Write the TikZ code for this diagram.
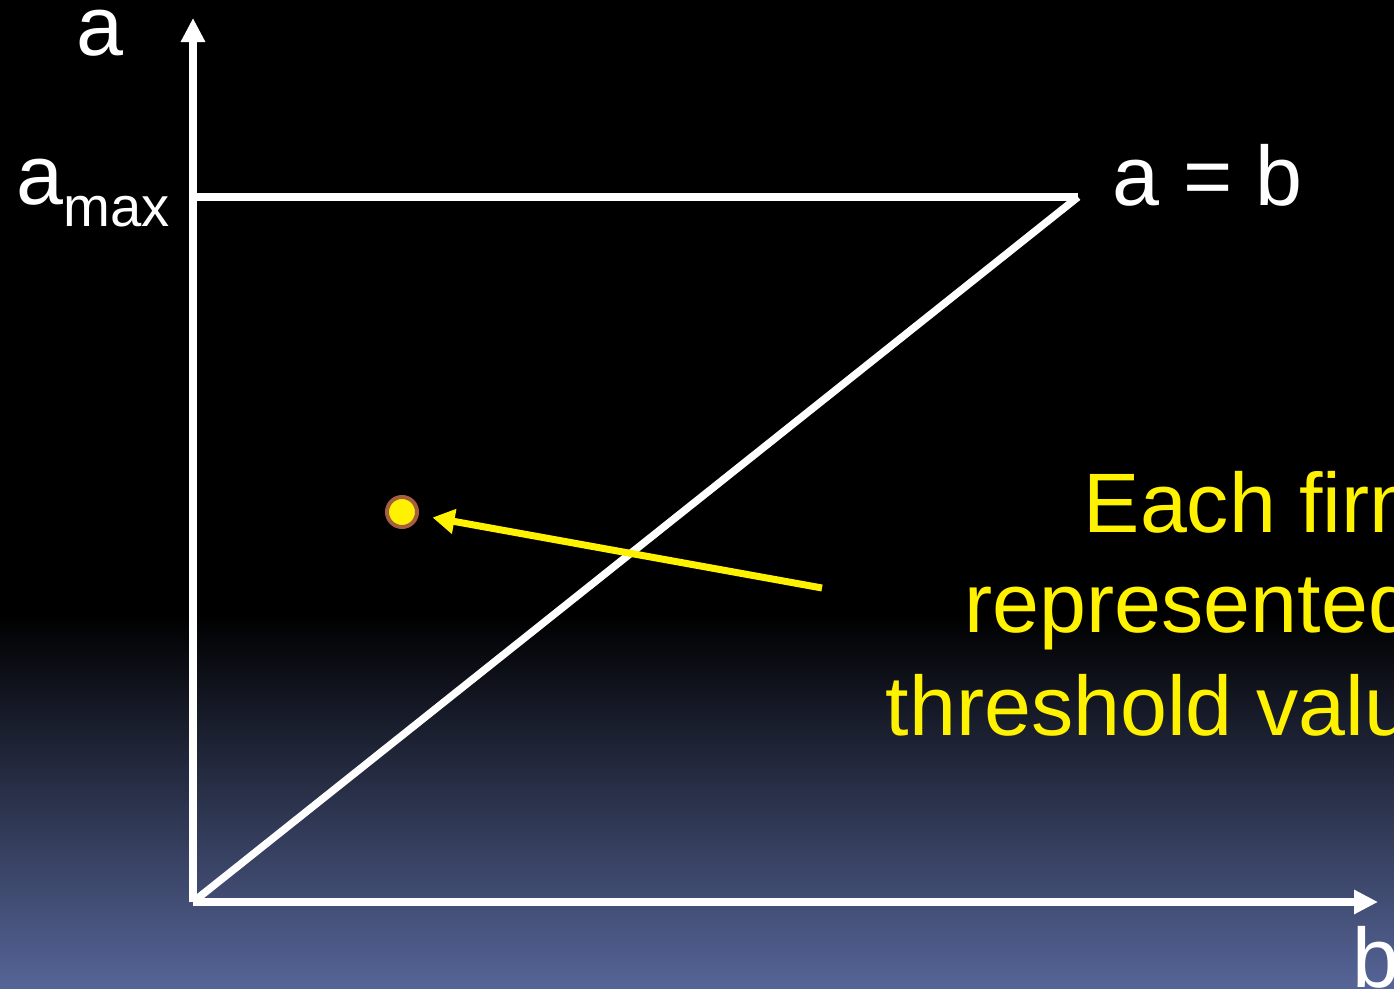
\documentclass[tikz,border=0pt]{standalone}
\usepackage{fontspec}
\setmainfont{Liberation Sans}
\usetikzlibrary{arrows.meta}
\definecolor{bgblue}{RGB}{86,101,152}
\definecolor{ringbrown}{RGB}{165,95,60}
\begin{document}
\begin{tikzpicture}[x=0.01cm, y=-0.01cm,
  axis/.style={white, line width=0.075cm},
  tipw/.style={-{Triangle[length=0.24cm, width=0.23cm]}},
  lbl/.style={white, inner sep=0pt, anchor=base west, font=\fontsize{24}{29}\selectfont},
  note/.style={yellow, inner sep=0pt, anchor=base west, font=\fontsize{24}{29}\selectfont},
  firm/.style={circle, fill=yellow, draw=ringbrown, line width=0.04cm, minimum size=0.3cm, inner sep=0pt}]
  \useasboundingbox (0,0) rectangle (1394,989);
  \clip (0,0) rectangle (1394,989);
  \fill[black] (0,0) rectangle (1394,989);
  \shade[top color=black, bottom color=bgblue] (0,615) rectangle (1394,989);
  \coordinate (O) at (193,902);
  \coordinate (ytip) at (193,18);
  \coordinate (xtip) at (1378,902);
  \coordinate (amax) at (193,197);
  \coordinate (corner) at (1078,197);
  \draw[axis, tipw] (O) -- (ytip);
  \draw[axis, tipw] (O) -- (xtip);
  \draw[axis] (amax) -- (corner);
  \draw[axis] (O) -- (corner);
  \node[lbl] (alab) at (76,56) {a};
  \node[lbl] (amaxlab) at (16,205) {a\raisebox{-0.22cm}{\fontsize{16}{19}\selectfont max}};
  \node[lbl] (diag) at (1112,206) {a = b};
  \node[lbl] (blab) at (1352,987) {b};
  \node[firm] (firm) at (402,512) {};
  \coordinate (pstart) at (822,588);
  \draw[yellow, line width=0.07cm, -{Triangle[length=0.22cm, width=0.24cm]}, shorten >=0.14cm] (pstart) -- (firm);
  \node[note] (l1) at (1083,533) {Each firm};
  \node[note] (l2) at (964,633) {represented};
  \node[note] (l3) at (885,736) {threshold valu};
\end{tikzpicture}
\end{document}
